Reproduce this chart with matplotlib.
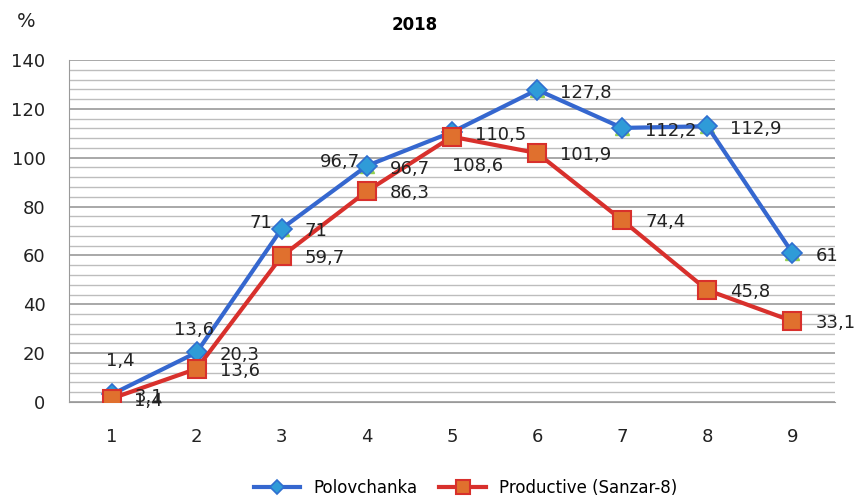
import matplotlib.pyplot as plt
from matplotlib.ticker import MultipleLocator

# Datos del gráfico
x = [1, 2, 3, 4, 5, 6, 7, 8, 9]
polovchanka = [3.1, 20.3, 71, 96.7, 110.5, 127.8, 112.2, 112.9, 61]
productive = [1.4, 13.6, 59.7, 86.3, 108.6, 101.9, 74.4, 45.8, 33.1]
# serie oculta (triángulos verdes) con sus propias etiquetas
hidden = [1.4, 13.6, 71, 96.7, 110.5, 127.8, 112.2, 112.9, 61]
hidden_labels = ["1,4", "13,6", "71", "96,7"]


def fmt(v):
    s = ("%g" % v).replace(".", ",")
    return s


plt.rcParams['font.family'] = ['DejaVu Sans']
fig = plt.figure(figsize=(8.56, 4.96), dpi=100)
ax = fig.add_axes([0.0806, 0.1895, 0.8949, 0.6895])

# Cuadrícula
ax.set_ylim(0, 140)
ax.set_xlim(0.5, 9.5)
ax.yaxis.set_major_locator(MultipleLocator(20))
ax.yaxis.set_minor_locator(MultipleLocator(4))
ax.grid(which='minor', axis='y', color='#bdbdbd', linewidth=1.0)
ax.grid(which='major', axis='y', color='#9a9a9a', linewidth=1.2)
ax.set_axisbelow(True)
for s in ['top', 'right']:
    ax.spines[s].set_visible(False)
ax.spines['left'].set_color('#9a9a9a')
ax.spines['bottom'].set_color('#9a9a9a')
ax.tick_params(which='both', length=0)
ax.tick_params(axis='y', pad=17, labelsize=13, labelcolor='#222222')
ax.tick_params(axis='x', pad=19, labelsize=13, labelcolor='#222222')
ax.set_xticks(x)

# Series
ax.plot(x, hidden, linestyle='none', marker='^', ms=10, color='#92d050', zorder=2)
ax.plot(x, polovchanka, color='#3567cf', linewidth=3, marker='D', ms=10,
        markerfacecolor='#2f9bd8', markeredgecolor='#2f6fd0', markeredgewidth=1.2,
        label='Polovchanka', zorder=3)
ax.plot(x, productive, color='#d8302c', linewidth=3, marker='s', ms=13,
        markerfacecolor='#e0702e', markeredgecolor='#d8302c', markeredgewidth=1.5,
        label='Productive (Sanzar-8)', zorder=4)

# Etiquetas de datos
for i in range(len(x)):
    ax.annotate(fmt(polovchanka[i]), (x[i], polovchanka[i]), xytext=(16.5, -2),
                textcoords='offset points', ha='left', va='center', fontsize=13,
                color='#222222', zorder=6)
    if i == 4:
        ax.annotate(fmt(productive[i]), (x[i], productive[i]), xytext=(0, -21),
                    textcoords='offset points', ha='left', va='center', fontsize=13,
                    color='#222222', zorder=6)
    else:
        ax.annotate(fmt(productive[i]), (x[i], productive[i]), xytext=(16.5, -1.5),
                    textcoords='offset points', ha='left', va='center', fontsize=13,
                    color='#222222', zorder=6)

hidden_offsets = [(6.5, 27, 'center'), (-2, 28, 'center'), (-7, 4, 'right'), (-5, 3, 'right')]
for i, lab in enumerate(hidden_labels):
    dx, dy, ha = hidden_offsets[i]
    ax.annotate(lab, (x[i], hidden[i]), xytext=(dx, dy), textcoords='offset points',
                ha=ha, va='center', fontsize=13, color='#222222', zorder=6)

# Título y unidad
fig.text(0.485, 0.95, '2018', ha='center', va='center', fontsize=12, fontweight='bold')
fig.text(0.031, 0.956, '%', ha='center', va='center', fontsize=14, color='#222222')

fig.legend(loc='center', bbox_to_anchor=(0.544, 0.017), ncol=2, frameon=False,
           fontsize=12, handlelength=2.8, columnspacing=1.3, handletextpad=0.8,
           markerscale=0.75, borderpad=0.1)

fig.savefig('out.png', dpi=100)
